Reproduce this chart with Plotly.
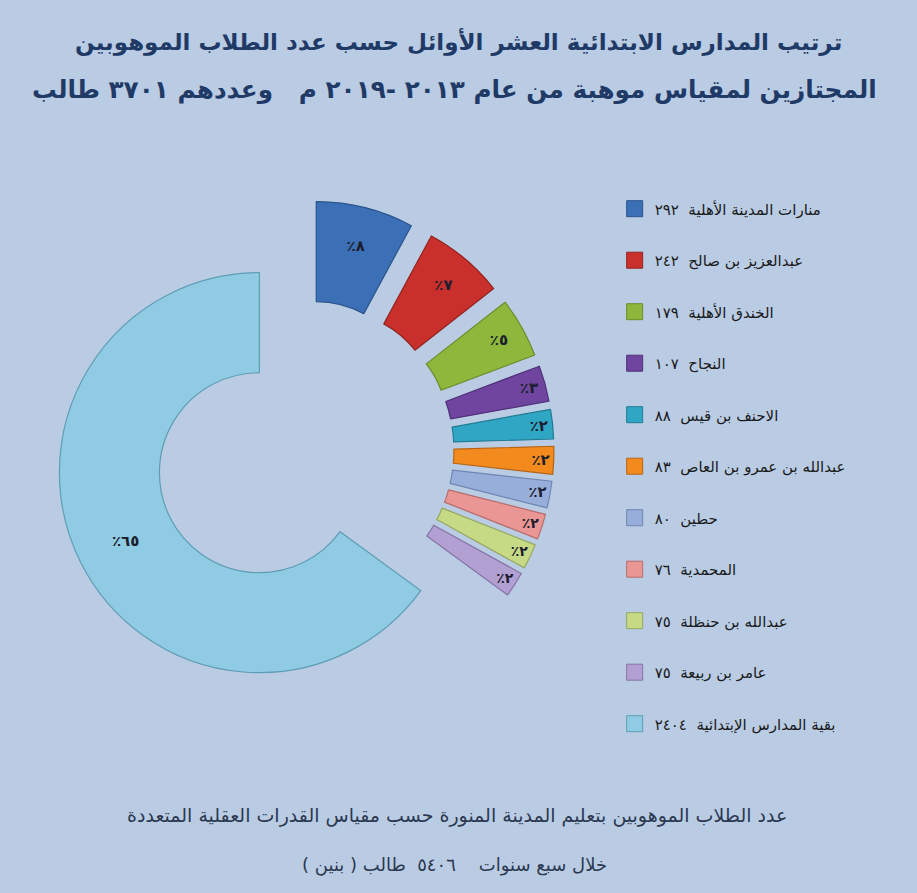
import plotly.graph_objects as go

# ---- data ----
NAMES = [
    "منارات المدينة الأهلية",
    "عبدالعزيز بن صالح",
    "الخندق الأهلية",
    "النجاح",
    "الاحنف بن قيس",
    "عبدالله بن عمرو بن العاص",
    "حطين",
    "المحمدية",
    "عبدالله بن حنظلة",
    "عامر بن ربيعة",
    "بقية المدارس الإبتدائية",
]
VALUES = [292, 242, 179, 107, 88, 83, 80, 76, 75, 75, 2404]

TITLE_1 = "ترتيب المدارس الابتدائية العشر الأوائل حسب عدد الطلاب الموهوبين"
TITLE_2 = "المجتازين لمقياس موهبة من عام ٢٠١٣ -٢٠١٩ م   وعددهم ٣٧٠١ طالب"
FOOT_1 = "عدد الطلاب الموهوبين بتعليم المدينة المنورة حسب مقياس القدرات العقلية المتعددة"
FOOT_2 = "خلال سبع سنوات    ٥٤٠٦  طالب ( بنين )"

# ---- styles ----
COLORS = ["#3B6FB6", "#C9302C", "#8DB83B", "#6F45A0", "#2FA6C4", "#F28A1E",
          "#97AEDA", "#E99694", "#C6DA86", "#B3A0D2", "#8FCCE3"]
LINES = ["#2B548C", "#94231F", "#6A8C2A", "#51317A", "#217C93", "#B86414",
         "#6F86B3", "#B86C6A", "#96A860", "#8673A6", "#5F9DB4"]

AR_DIGITS = str.maketrans("0123456789", "٠١٢٣٤٥٦٧٨٩")
RLM = "\u200f"


def ar(n):
    return str(n).translate(AR_DIGITS)


total = sum(VALUES)
pct_text = ["٪" + ar(round(v / total * 100)) for v in VALUES]
legend_text = [f"{n}  {ar(v)}" for n, v in zip(NAMES, VALUES)]

FONT = "DejaVu Sans"

fig = go.Figure()
fig.add_trace(go.Pie(
    values=VALUES,
    labels=NAMES,
    text=pct_text,
    textinfo="text",
    textposition="inside",
    insidetextorientation="horizontal",
    textfont=dict(family=FONT, size=15, color="#1B1E2E", weight="bold"),
    sort=False,
    direction="clockwise",
    rotation=0,
    hole=0.5,
    pull=0.25,
    marker=dict(colors=COLORS, line=dict(color=LINES, width=1.2)),
    domain=dict(x=[0.0589, 0.6041], y=[0.2161, 0.776]),
    showlegend=False,
    hoverinfo="label+value+percent",
))

# legend entries (one per slice) so their spacing can match the reference
for i, (lab, col, lc) in enumerate(zip(legend_text, COLORS, LINES)):
    fig.add_trace(go.Scatter(
        x=[None], y=[None], mode="markers", name=lab,
        legendgroup=f"g{i}",
        marker=dict(symbol="square", size=16, color=col, line=dict(color=lc, width=1)),
        hoverinfo="skip",
    ))

annos = [
    dict(text=TITLE_1, x=0.5, y=0.953, size=23, color="#1F3A66", weight="bold"),
    dict(text=TITLE_2, x=0.496, y=0.899, size=24.7, color="#1F3A66", weight="bold"),
    dict(text=RLM + FOOT_1 + RLM, x=0.498, y=0.087, size=19, color="#2B3850", weight="normal"),
    dict(text=RLM + FOOT_2 + RLM, x=0.496, y=0.031, size=18, color="#2B3850", weight="normal"),
]

fig.update_layout(
    width=917, height=893,
    margin=dict(l=0, r=0, t=0, b=0),
    paper_bgcolor="#B9CCE4",
    plot_bgcolor="#B9CCE4",
    xaxis=dict(visible=False),
    yaxis=dict(visible=False),
    font=dict(family=FONT, color="#1A1A1A"),
    legend=dict(
        x=0.6703, y=0.7845, xanchor="left", yanchor="top",
        bgcolor="rgba(0,0,0,0)",
        font=dict(family=FONT, size=15, color="#1A1A1A"),
        tracegroupgap=29,
        itemsizing="trace",
    ),
    annotations=[
        dict(text=a["text"], x=a["x"], y=a["y"], xref="paper", yref="paper",
             xanchor="center", yanchor="middle", showarrow=False,
             font=dict(family=FONT, size=a["size"], color=a["color"], weight=a["weight"]))
        for a in annos
    ],
)

fig.write_html("out.html", config={"displayModeBar": False},
               post_script="document.body.style.margin='0';")
